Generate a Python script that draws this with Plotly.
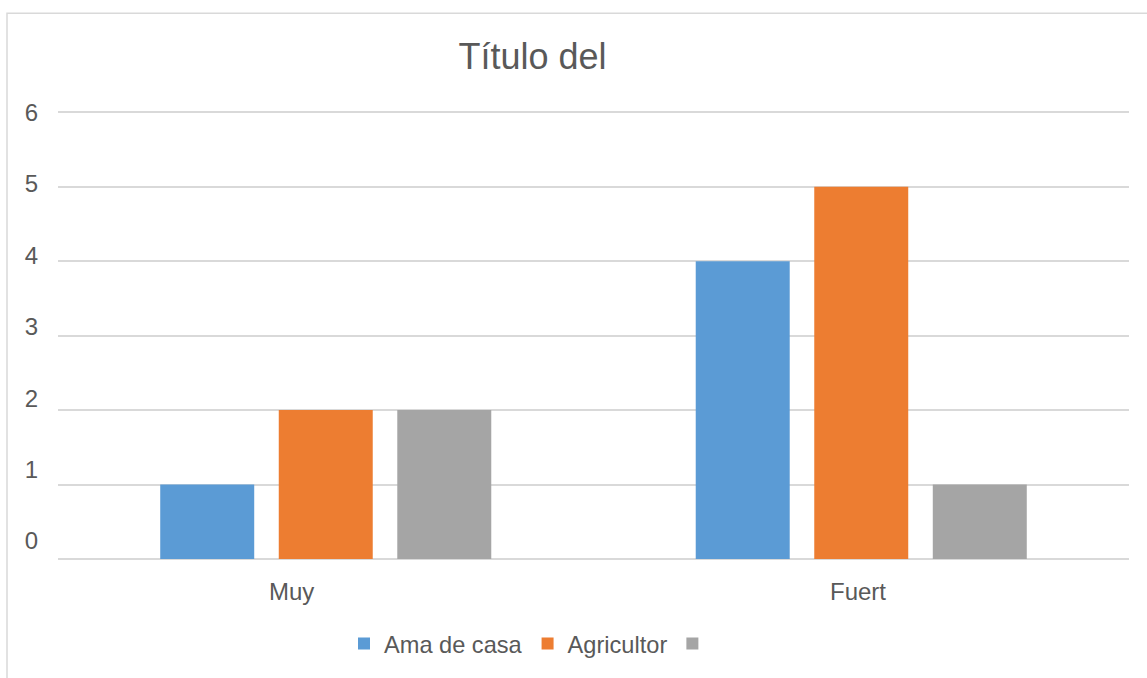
import plotly.graph_objects as go

categories = ["Muy", "Fuert"]
series_names = ["Ama de casa", "Agricultor", " "]
ama_de_casa = [1, 4]
agricultor = [2, 5]
serie3 = [2, 1]
y_ticks = [0, 1, 2, 3, 4, 5, 6]
title_text = "Título del"

colors = ["#5B9BD5", "#ED7D31", "#A5A5A5"]
FONT = "Liberation Sans, Arial, sans-serif"
TXT = "#595959"
GRID = "#D9D9D9"

W, H = 1147, 678
Y0_PX, Y6_PX = 561, 112          # pixel rows of gridlines 0 and 6
unit = (Y0_PX - Y6_PX) / 6.0
YTOP = 6.03                      # small headroom so the top gridline is drawn
L, R = 58, 18
T = Y0_PX - YTOP * unit
B = H - Y0_PX
pw, ph = W - L - R, H - T - B

# tick labels in the reference sit on a slightly tighter spacing than the gridlines
LBL0_PX, LBL6_PX = 543, 112
k2 = (LBL0_PX - LBL6_PX) / 6.0
y2_lo = -(Y0_PX - LBL0_PX) / k2
y2_hi = y2_lo + (Y0_PX - T) / k2

fig = go.Figure()
for name, vals, col in zip(series_names, [ama_de_casa, agricultor, serie3], colors):
    fig.add_trace(go.Bar(x=categories, y=vals, name=name,
                         marker=dict(color=col, line=dict(width=0))))

# invisible anchor trace so the label axis is rendered
fig.add_trace(go.Scatter(x=[categories[0]], y=[y_ticks[0]], yaxis="y2", mode="markers",
                         marker=dict(opacity=0), showlegend=False, hoverinfo="skip"))

# category labels (as annotations on the category axis)
label_shift = [-34, -3]
for cat, sh in zip(categories, label_shift):
    fig.add_annotation(x=cat, xref="x", y=0, yref="paper", yanchor="top",
                       yshift=-17, xshift=sh, text=cat, showarrow=False,
                       font=dict(family=FONT, size=24, color=TXT))

# chart-area border
fig.add_shape(type="rect", xref="paper", yref="paper",
              x0=(7 - L) / pw, x1=(W + 10 - L) / pw,
              y0=(Y0_PX - (H + 10)) / ph, y1=(Y0_PX - 12.5) / ph,
              line=dict(color=GRID, width=1.5), fillcolor="rgba(0,0,0,0)", layer="below")

fig.update_layout(
    width=W, height=H,
    margin=dict(l=L, r=R, t=T, b=B),
    paper_bgcolor="white", plot_bgcolor="white",
    barmode="group", bargap=0.336, bargroupgap=0.207,
    title=dict(text=title_text, x=532.5 / W, xanchor="center", xref="container",
               y=1 - 56 / H, yanchor="middle", yref="container",
               font=dict(family=FONT, size=36, color=TXT)),
    font=dict(family=FONT, color=TXT, size=24),
    xaxis=dict(showticklabels=False, showgrid=False, zeroline=False, showline=False,
               ticks=""),
    yaxis=dict(range=[0, YTOP], tickvals=y_ticks, showgrid=True, gridcolor=GRID, gridwidth=2,
               zeroline=True, zerolinecolor=GRID, zerolinewidth=2, showline=False,
               ticks="", showticklabels=False),
    yaxis2=dict(overlaying="y", side="left", range=[y2_lo, y2_hi], tickvals=y_ticks,
                showgrid=False, zeroline=False, showline=False, ticks="",
                ticklabelstandoff=19, fixedrange=True,
                tickfont=dict(family=FONT, size=24, color=TXT)),
    legend=dict(orientation="h", x=(534 - L) / pw, xanchor="center",
                y=(Y0_PX - 646) / ph, yanchor="middle",
                font=dict(family=FONT, size=23.6, color=TXT), bgcolor="rgba(0,0,0,0)"),
    showlegend=True,
)

fig.write_html("out.html")
